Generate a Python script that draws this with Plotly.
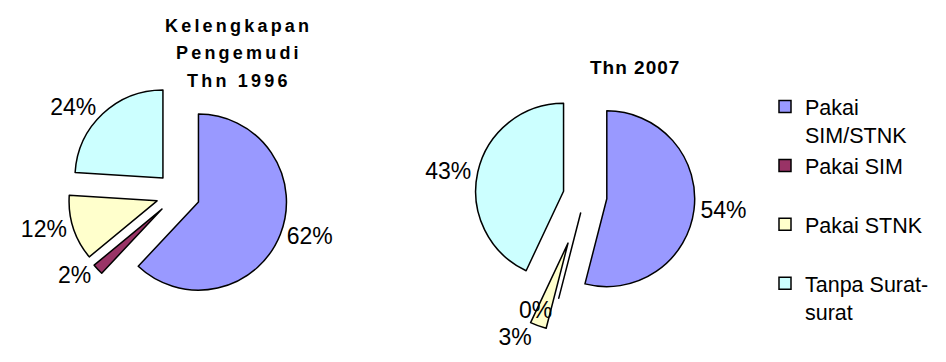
import plotly.graph_objects as go

categories = ["Pakai<br>SIM/STNK", "Pakai SIM<br> ", "Pakai STNK<br> ", "Tanpa Surat-<br>surat"]
values_1996 = [62, 2, 12, 24]
values_2007 = [54, 0, 3, 43]
colors = ["#9999FF", "#993366", "#FFFFCC", "#CCFFFF"]
pull_1996 = [0.25, 0.25, 0.25, 0.25]
pull_2007 = [0.25, 0.2, 0.57, 0.25]
title_1996 = ["Kelengkapan", "Pengemudi", "Thn 1996"]
title_2007 = "Thn 2007"

FONT = "Liberation Sans, Arial, sans-serif"
W, H = 946, 362
LABEL_SIZE = 23


def dom(cx, cy, half):
    return dict(x=[(cx - half) / W, (cx + half) / W],
                y=[1 - (cy + half) / H, 1 - (cy - half) / H])


common = dict(sort=False, direction="clockwise", rotation=0,
              textinfo="percent",
              outsidetextfont=dict(family=FONT, size=LABEL_SIZE, color="black"))

fig = go.Figure()
# 1996 pie
fig.add_trace(go.Pie(
    labels=categories, values=values_1996, pull=pull_1996,
    textposition="outside", hoverinfo="label+percent",
    marker=dict(colors=colors, line=dict(color="black", width=1.5)),
    domain=dom(178, 194, 110), showlegend=True, **common,
))

# 2007 pie: slices + labels (the 0% label is placed by a second, invisible
# copy of the same pie so that it is not pushed below the pulled 3% slice)
CX07, CY07, HALF07 = 585, 196, 138
r07 = HALF07 / (1 + max(pull_2007))
fig.add_trace(go.Pie(
    labels=categories, values=values_2007, pull=pull_2007,
    textposition=["outside", "none", "outside", "outside"],
    hoverinfo="label+percent",
    marker=dict(colors=colors, line=dict(color="black", width=1.5)),
    domain=dom(CX07, CY07, HALF07), showlegend=False, **common,
))
fig.add_trace(go.Pie(
    labels=categories, values=values_2007, pull=pull_2007[1],
    textposition=["none", "outside", "none", "none"],
    hoverinfo="skip",
    marker=dict(colors=["rgba(0,0,0,0)"] * 4, line=dict(width=0)),
    domain=dom(CX07, CY07, r07 * (1 + pull_2007[1])), showlegend=False, **common,
))

for i, line in enumerate(title_1996):
    fig.add_annotation(
        x=239 / W, y=1 - (26 + 27.5 * i) / H, xref="paper", yref="paper",
        showarrow=False, xanchor="center", yanchor="middle",
        text=f"<b><span style='letter-spacing:3.2px'>{line}</span></b>",
        font=dict(family=FONT, size=18, color="black"),
    )
fig.add_annotation(
    x=635 / W, y=1 - 67 / H, xref="paper", yref="paper", showarrow=False,
    xanchor="center", yanchor="middle",
    text=f"<b><span style='letter-spacing:1px'>{title_2007}</span></b>",
    font=dict(family=FONT, size=19, color="black"),
)

fig.update_layout(
    width=W, height=H, margin=dict(l=0, r=0, t=0, b=0, autoexpand=False),
    paper_bgcolor="white", plot_bgcolor="white",
    font=dict(family=FONT, size=21.5, color="black"),
    legend=dict(x=765 / W, y=1 - 86 / H, xanchor="left", yanchor="top",
                font=dict(family=FONT, size=21.5, color="black"),
                valign="top", bgcolor="rgba(0,0,0,0)"),
)

fig.write_html("out.html")
